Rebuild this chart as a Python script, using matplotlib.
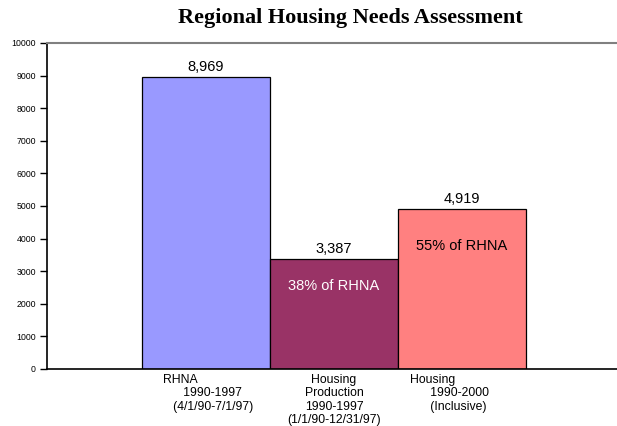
import matplotlib
matplotlib.use("Agg")
import matplotlib.pyplot as plt

plt.rcParams['font.family'] = ['Liberation Sans', 'DejaVu Sans']

categories = ["RHNA\n      1990-1997\n   (4/1/90-7/1/97)",
              "Housing\nProduction\n1990-1997\n(1/1/90-12/31/97)",
              "Housing\n      1990-2000\n      (Inclusive)"]
values = [8969, 3387, 4919]
value_labels = ["8,969", "3,387", "4,919"]
inner_labels = ["", "38% of RHNA", "55% of RHNA"]
colors = ["#9999FF", "#993366", "#FF8080"]
inner_colors = ["black", "white", "black"]

fig = plt.figure(figsize=(6.17, 4.26), dpi=100)
W, H = 617, 426
ax = fig.add_axes([47 / W, 1 - 369 / H, 1 - 47 / W, (369 - 43) / H])

x = list(range(len(values)))
ax.bar(x, values, width=1.0, color=colors, edgecolor="black", linewidth=0.9)

ax.set_xlim(-1.242, 3.21)
ax.set_ylim(0, 10000)
ax.set_yticks(range(0, 10001, 1000))
ax.tick_params(axis='y', labelsize=6.3, length=5, width=1, pad=3)

# category labels, hand-indented like the original
ax.set_xticks([])
label_x = [-0.336, 1.0, 1.594]
label_ha = ["left", "center", "left"]
for lx, ha, lab in zip(label_x, label_ha, categories):
    ax.text(lx, -150, lab, ha=ha, va="top", fontsize=8.8, linespacing=1.15,
            multialignment="center" if ha == "center" else "left")

for xi, v, lab in zip(x, values, value_labels):
    ax.text(xi, v + 90, lab, ha="center", va="bottom", fontsize=10.5)

offsets = [0, 840, 1150]
for xi, v, lab, c, off in zip(x, values, inner_labels, inner_colors, offsets):
    if lab:
        ax.text(xi, v - off, lab, ha="center", va="center", fontsize=10.5, color=c)

ax.spines['right'].set_visible(False)
ax.spines['top'].set_color("#808080")
ax.spines['top'].set_linewidth(1.5)
ax.spines['left'].set_linewidth(1.2)
ax.spines['bottom'].set_linewidth(1.2)

fig.text(350 / W, 1 - 18 / H, "Regional Housing Needs Assessment", ha="center", va="center",
         fontsize=16, fontweight="bold", family="Liberation Serif")

fig.savefig("out.png", dpi=100)
